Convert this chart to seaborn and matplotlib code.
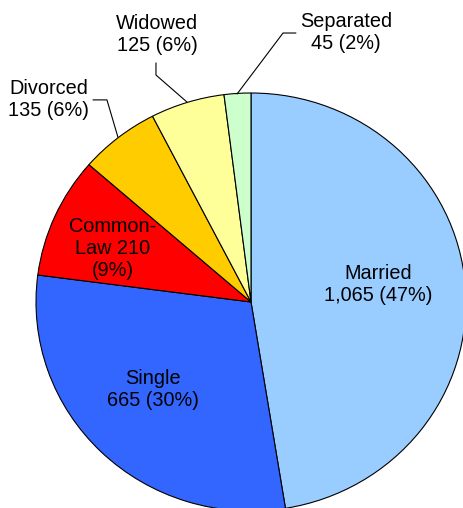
import matplotlib
matplotlib.use("Agg")
import matplotlib.pyplot as plt
import seaborn as sns

categories = ["Married", "Single", "Common-Law", "Divorced", "Widowed", "Separated"]
counts = [1065, 665, 210, 135, 125, 45]
label_texts = ["Married\n1,065 (47%)", "Single\n665 (30%)", "Common-\nLaw 210\n(9%)",
               "Divorced\n135 (6%)", "Widowed\n125 (6%)", "Separated\n45 (2%)"]
colors = ["#99CCFF", "#3366FF", "#FF0000", "#FFCC00", "#FFFF99", "#CCFFCC"]

sns.set_theme(style="white")
plt.rcParams["font.family"] = ["Liberation Sans", "DejaVu Sans"]

W, H = 464, 508
fig = plt.figure(figsize=(W / 100, H / 100), dpi=100)
ax = fig.add_axes([0, 0, 1, 1])

ax.pie(counts, colors=colors, startangle=90, counterclock=False,
       wedgeprops=dict(edgecolor="black", linewidth=0.8))

# pixel geometry of the pie
cx, cy, rx, ry = 251, 302, 215, 209
ax.set_aspect("auto")
ax.set_xlim(-cx / rx, (W - cx) / rx)
ax.set_ylim(-(H - cy) / ry, cy / ry)
ax.axis("off")

label_pos = [(0.59, 0.086), (-0.458, -0.421), (-0.642, 0.258),
             (-0.940, 0.967), (-0.437, 1.280), (0.442, 1.289)]
for txt, (x, y) in zip(label_texts, label_pos):
    ax.text(x, y, txt, ha="center", va="center", fontsize=14.3,
            color="black", linespacing=1.2)

leaders = [
    [(-0.735, 0.967), (-0.670, 0.967), (-0.619, 0.789)],
    [(-0.442, 1.144), (-0.442, 1.086), (-0.298, 0.957)],
    [(0.209, 1.287), (0.149, 1.287), (-0.065, 0.995)],
]
for pts in leaders:
    xs, ys = zip(*pts)
    ax.plot(xs, ys, color="black", linewidth=0.8)

fig.savefig("out.png", dpi=100)
